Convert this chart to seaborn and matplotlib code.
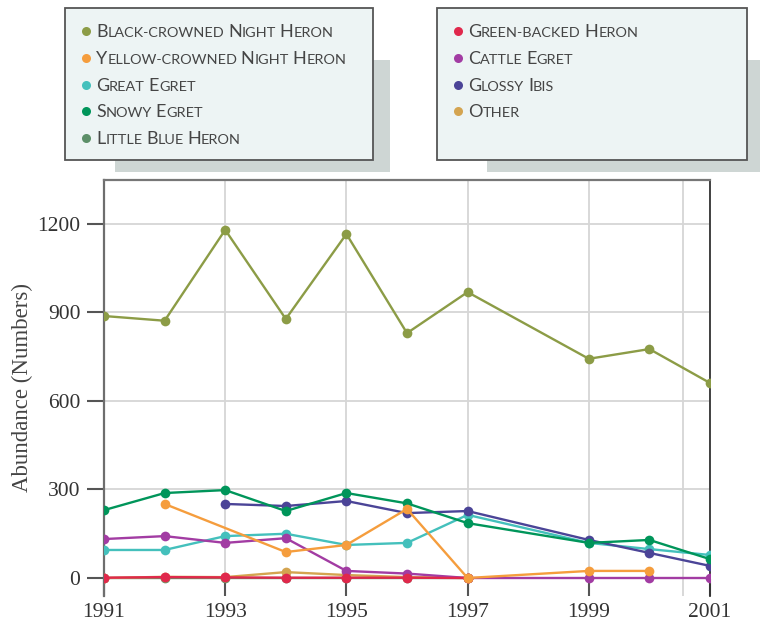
import numpy as np
import pandas as pd
import matplotlib
matplotlib.use("Agg")
import matplotlib.pyplot as plt
from matplotlib.patches import Rectangle
from matplotlib.lines import Line2D
import seaborn as sns

nan = np.nan
years = [1991, 1992, 1993, 1994, 1995, 1996, 1997, 1999, 2000, 2001]
black_crowned = [888, 872, 1180, 878, 1166, 830, 969, 743, 776, 661]
yellow_crowned = [nan, 251, nan, 88, 112, 234, 0, 24, 24, nan]
great_egret = [95, 95, 142, 150, 112, 119, 214, 119, 98, 78]
snowy_egret = [230, 288, 298, 227, 288, 253, 186, 119, 129, 64]
little_blue = [0, 0, 0, 0, 0, 0, 0, nan, nan, nan]
green_backed = [1, 3, 2, 1, 1, 1, 0, nan, nan, nan]
cattle_egret = [132, 142, 119, 135, 24, 15, 0, 0, 0, 0]
glossy_ibis = [nan, nan, 251, 244, 261, 220, 227, 129, 85, 41]
other = [0, 4, 3, 20, 10, 3, 0, nan, nan, nan]

names = ["Black-crowned Night Heron", "Yellow-crowned Night Heron", "Great Egret",
         "Snowy Egret", "Little Blue Heron", "Green-backed Heron", "Cattle Egret",
         "Glossy Ibis", "Other"]
values = [black_crowned, yellow_crowned, great_egret, snowy_egret, little_blue,
          green_backed, cattle_egret, glossy_ibis, other]
colors = ["#8c9c46", "#f59d3d", "#44c0bc", "#00955a", "#5c8f68",
          "#e0284c", "#a23ca3", "#4b4497", "#d4a450"]
zorders = [4, 9, 5, 7, 2, 8, 6, 6.5, 3]

frames = []
for n, v in zip(names, values):
    frames.append(pd.DataFrame({"Year": years, "Value": v, "Species": n}))
df = pd.concat(frames, ignore_index=True)

sns.set_theme(style="white")
W, H = 760, 624
fig = plt.figure(figsize=(W / 100, H / 100), dpi=100)
ax = fig.add_axes([104 / W, 1 - 596 / H, 606 / W, 416 / H])

for n, c, z in zip(names, colors, zorders):
    sub = df[df["Species"] == n].dropna()
    sns.lineplot(data=sub, x="Year", y="Value", ax=ax, color=c, marker="o",
                 markersize=7, markeredgewidth=0, linewidth=1.7, zorder=z,
                 legend=False)

ax.set_xlim(1991, 2001)
ax.set_ylim(-61, 1349)
ax.set_xticks([1991, 1993, 1995, 1997, 1999, 2001])
ax.set_xticks([2000.55], minor=True)
ax.set_yticks([0, 300, 600, 900, 1200])
ax.grid(True, which="major", color="#d6d6d6", linewidth=1.3, zorder=0)
ax.grid(True, which="minor", axis="x", color="#d6d6d6", linewidth=1.3, zorder=0)
ax.set_axisbelow(True)
ax.set_xlabel("")
serif = "Liberation Serif"
ax.set_ylabel("Abundance (Numbers)", fontfamily=serif, fontsize=16.5,
              color="#444444", labelpad=3)

ax.tick_params(axis="y", direction="out", length=12, width=1.5, color="#555555",
               labelsize=15.5, labelcolor="#333333", pad=5, left=True)
ax.tick_params(axis="x", which="major", direction="in", length=12.5, width=1.5,
               color="#555555", labelsize=15.5, labelcolor="#333333", pad=5,
               bottom=True)
ax.tick_params(axis="x", which="minor", length=0)
for lab in ax.get_xticklabels() + ax.get_yticklabels():
    lab.set_fontfamily(serif)

ax.spines["bottom"].set_visible(False)
ax.spines["left"].set_color("#6e6e6e")
ax.spines["left"].set_linewidth(1.6)
ax.spines["top"].set_color("#777777")
ax.spines["top"].set_linewidth(1.6)
ax.spines["right"].set_color("#333333")
ax.spines["right"].set_linewidth(1.3)


def fx(px):
    return px / W


def fy(py):
    return 1 - py / H


# legend boxes with shadows
for (bx0, bx1, sx0, sx1) in [(65, 373, 115, 390), (437, 747, 487, 760)]:
    fig.patches.append(Rectangle((fx(sx0), fy(172)), fx(sx1 - sx0), (172 - 60) / H,
                                 transform=fig.transFigure, facecolor="#ced6d4",
                                 edgecolor="none", zorder=1))
    fig.patches.append(Rectangle((fx(bx0), fy(160)), fx(bx1 - bx0), (160 - 8) / H,
                                 transform=fig.transFigure, facecolor="#edf4f4",
                                 edgecolor="#555555", linewidth=1.3, zorder=2))

fig.canvas.draw()
renderer = fig.canvas.get_renderer()
leg_font = "Lato"
BIG, SMALL = 13.0, 10.4


def text_width(s, size):
    t = fig.text(0, 0, s, fontsize=size, fontfamily=leg_font)
    w = t.get_window_extent(renderer=renderer).width
    t.remove()
    return w


space_w = text_width("A A", SMALL) - text_width("AA", SMALL)


def smallcaps(x, yb, s):
    cur = x
    i = 0
    while i < len(s):
        ch = s[i]
        if ch == " ":
            cur += space_w
            i += 1
            continue
        big = ch.isupper()
        j = i
        while j < len(s) and s[j] != " " and s[j].isupper() == big:
            j += 1
        run = s[i:j].upper()
        size = BIG if big else SMALL
        t = fig.text(fx(cur), fy(yb), run, fontsize=size, fontfamily=leg_font,
                     color="#454545", ha="left", va="baseline", zorder=5)
        cur += t.get_window_extent(renderer=renderer).width
        i = j


rows_y = [31, 58, 85, 111, 138]
col1 = list(range(5))
col2 = list(range(5, 9))
for col, mx, tx in [(col1, 86, 96), (col2, 458, 468)]:
    for k, idx in enumerate(col):
        yc = rows_y[k]
        fig.add_artist(Line2D([fx(mx)], [fy(yc)], marker="o", markersize=6.5,
                              markeredgewidth=0, color=colors[idx],
                              transform=fig.transFigure, zorder=5))
        smallcaps(tx, yc + 6.3, names[idx])

fig.savefig("out.png", dpi=100)
